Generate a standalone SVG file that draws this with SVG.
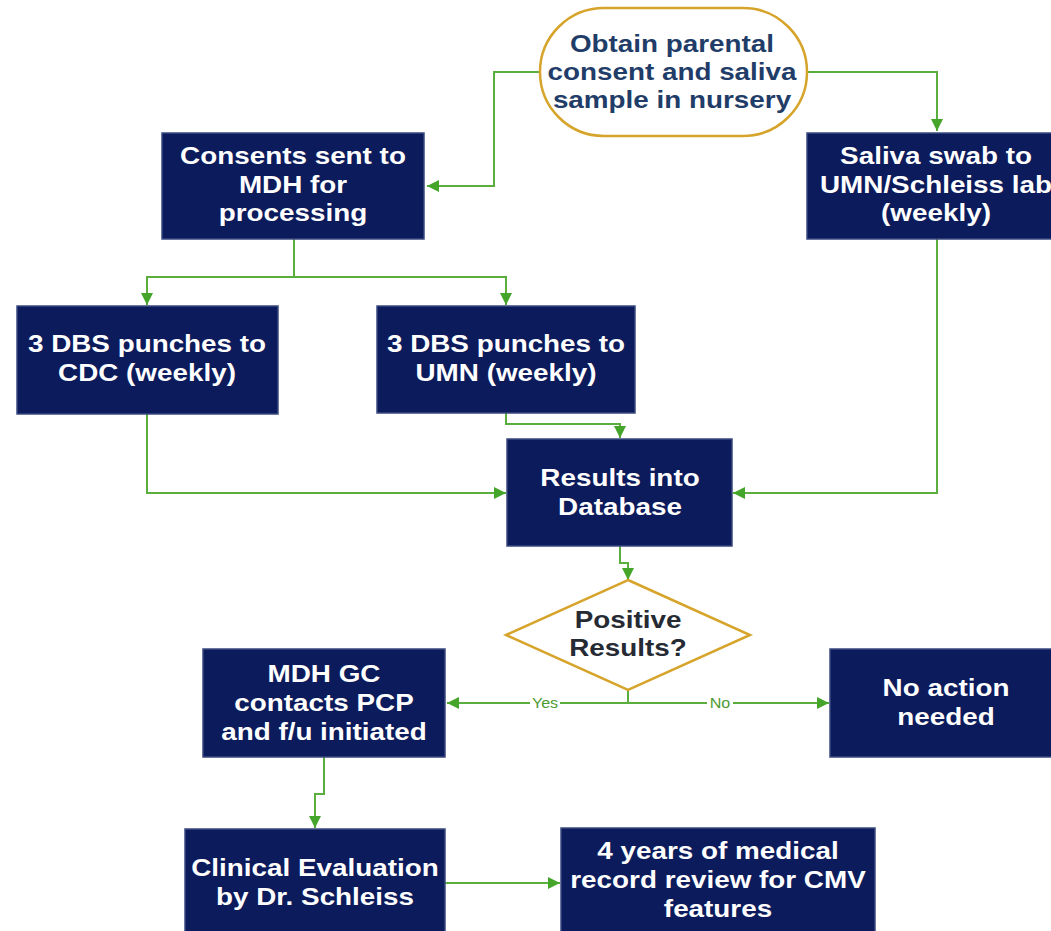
<svg xmlns="http://www.w3.org/2000/svg" width="1051" height="931" viewBox="0 0 1051 931">
<defs>
<style>
.box{fill:#0c1b5c;stroke:#3b4a80;stroke-width:1.5}
.bt{font-family:"Liberation Sans",Arial,sans-serif;font-weight:bold;font-size:24px;fill:#ffffff;text-anchor:middle}
.st{font-family:"Liberation Sans",Arial,sans-serif;font-weight:bold;font-size:24px;fill:#1f3d68;text-anchor:middle}
.dt{font-family:"Liberation Sans",Arial,sans-serif;font-weight:bold;font-size:24px;fill:#262a33;text-anchor:middle}
.gold{fill:#ffffff;stroke:#d6a42a;stroke-width:2.5}
.conn{fill:none;stroke:#5aae3e;stroke-width:2}
.lbl{font-family:"Liberation Sans",Arial,sans-serif;font-size:14px;fill:#4c9a34;text-anchor:middle}
</style>
<marker id="ah" markerUnits="userSpaceOnUse" markerWidth="13" markerHeight="13" refX="12" refY="6" orient="auto">
<path d="M0,0 L12,6 L0,12 z" fill="#45a52a"/>
</marker>
</defs>
<rect width="1051" height="931" fill="#ffffff"/>

<g id="connectors">
<path class="conn" d="M540,72 H494 V186 H427" marker-end="url(#ah)"/>
<path class="conn" d="M807,72 H937 V131" marker-end="url(#ah)"/>
<path class="conn" d="M294,239 V277 H147 V305" marker-end="url(#ah)"/>
<path class="conn" d="M294,277 H506 V305" marker-end="url(#ah)"/>
<path class="conn" d="M506,413 V424 H620 V438" marker-end="url(#ah)"/>
<path class="conn" d="M147,414 V493 H506" marker-end="url(#ah)"/>
<path class="conn" d="M937,239 V493 H733" marker-end="url(#ah)"/>
<path class="conn" d="M620,546 V563 H628 V580" marker-end="url(#ah)"/>
<path class="conn" d="M628,690 V703"/>
<path class="conn" d="M628,703 H447" marker-end="url(#ah)"/>
<path class="conn" d="M628,703 H829" marker-end="url(#ah)"/>
<path class="conn" d="M324,757 V794 H315 V828" marker-end="url(#ah)"/>
<path class="conn" d="M445,883 H560" marker-end="url(#ah)"/>
<rect x="530" y="695" width="30" height="16" fill="#ffffff"/>
<rect x="707" y="695" width="26" height="16" fill="#ffffff"/>
<g transform="translate(545 0) scale(1.15 1)"><text class="lbl" x="0" y="708">Yes</text></g>
<g transform="translate(720 0) scale(1.15 1)"><text class="lbl" x="0" y="708">No</text></g>
</g>

<g id="start">
<rect class="gold" x="540" y="8" width="267" height="128" rx="64" ry="64"/>
<g transform="translate(672 0) scale(1.16 1)">
<text class="st" x="0" y="52">Obtain parental</text>
<text class="st" x="0" y="80">consent and saliva</text>
<text class="st" x="0" y="108">sample in nursery</text>
</g>
</g>

<g id="consents">
<rect class="box" x="162" y="133" width="262" height="106"/>
<g transform="translate(293 0) scale(1.16 1)">
<text class="bt" x="0" y="164">Consents sent to</text>
<text class="bt" x="0" y="193">MDH for</text>
<text class="bt" x="0" y="221">processing</text>
</g>
</g>

<g id="saliva">
<rect class="box" x="807" y="133" width="260" height="106"/>
<g transform="translate(936 0) scale(1.16 1)">
<text class="bt" x="0" y="164">Saliva swab to</text>
<text class="bt" x="0" y="193">UMN/Schleiss lab</text>
<text class="bt" x="0" y="221">(weekly)</text>
</g>
</g>

<g id="cdc">
<rect class="box" x="17" y="306" width="261" height="108"/>
<g transform="translate(147 0) scale(1.16 1)">
<text class="bt" x="0" y="352">3 DBS punches to</text>
<text class="bt" x="0" y="381">CDC (weekly)</text>
</g>
</g>

<g id="umn">
<rect class="box" x="377" y="306" width="258" height="107"/>
<g transform="translate(506 0) scale(1.16 1)">
<text class="bt" x="0" y="352">3 DBS punches to</text>
<text class="bt" x="0" y="381">UMN (weekly)</text>
</g>
</g>

<g id="results">
<rect class="box" x="507" y="439" width="225" height="107"/>
<g transform="translate(620 0) scale(1.16 1)">
<text class="bt" x="0" y="486">Results into</text>
<text class="bt" x="0" y="515">Database</text>
</g>
</g>

<g id="decision">
<polygon class="gold" points="628,580 750,635 628,690 506,635"/>
<g transform="translate(628 0) scale(1.16 1)">
<text class="dt" x="0" y="628">Positive</text>
<text class="dt" x="0" y="656">Results?</text>
</g>
</g>

<g id="mdhgc">
<rect class="box" x="203" y="649" width="242" height="108"/>
<g transform="translate(324 0) scale(1.16 1)">
<text class="bt" x="0" y="682">MDH GC</text>
<text class="bt" x="0" y="711">contacts PCP</text>
<text class="bt" x="0" y="740">and f/u initiated</text>
</g>
</g>

<g id="noaction">
<rect class="box" x="830" y="649" width="240" height="108"/>
<g transform="translate(946 0) scale(1.16 1)">
<text class="bt" x="0" y="696">No action</text>
<text class="bt" x="0" y="725">needed</text>
</g>
</g>

<g id="clinical">
<rect class="box" x="185" y="829" width="260" height="112"/>
<g transform="translate(315 0) scale(1.16 1)">
<text class="bt" x="0" y="876">Clinical Evaluation</text>
<text class="bt" x="0" y="905">by Dr. Schleiss</text>
</g>
</g>

<g id="review">
<rect class="box" x="561" y="828" width="314" height="113"/>
<g transform="translate(718 0) scale(1.16 1)">
<text class="bt" x="0" y="859">4 years of medical</text>
<text class="bt" x="0" y="888">record review for CMV</text>
<text class="bt" x="0" y="917">features</text>
</g>
</g>
</svg>
